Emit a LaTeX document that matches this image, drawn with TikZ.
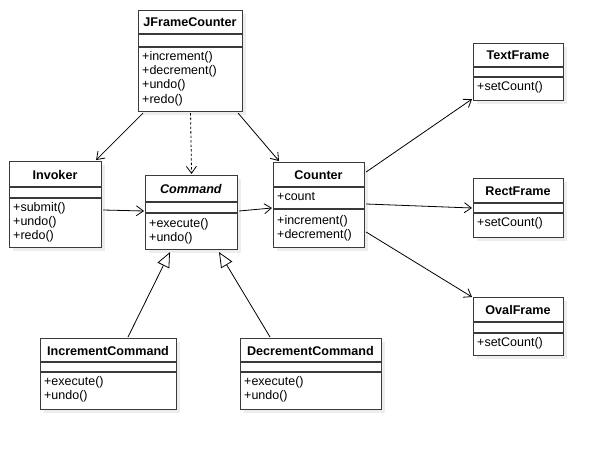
\documentclass[tikz,border=0pt]{standalone}
\usepackage{fontspec}
\setmainfont{Liberation Sans}
\usetikzlibrary{arrows.meta,calc}
\definecolor{shadowc}{HTML}{EDEDED}
\definecolor{linec}{HTML}{3A3A3A}
\tikzset{
  umlbox/.style={draw=linec, line width=1.1pt, fill=white, inner sep=0pt},
  divider/.style={draw=linec, line width=1.1pt},
  ttl/.style={font=\fontsize{12.6}{14}\selectfont\bfseries, inner sep=0pt},
  mem/.style={font=\fontsize{12.5}{14.3}\selectfont, align=left, inner sep=0pt, anchor=north west},
  assoc/.style={draw=black, line width=0.8pt, -{Straight Barb[length=7pt,width=10pt,line width=0.8pt]}},
  dep/.style={assoc, dashed, dash pattern=on 2.5pt off 2pt},
  gen/.style={draw=black, line width=0.8pt, -{Triangle[open, length=15pt, width=13pt, line width=0.8pt, fill=white]}}
}
% name, x, y, w, h, d1, d2, title
\newcommand\umlclass[8]{%
  \fill[shadowc] (#2+4,#3+4) rectangle (#2+#4+4,#3+#5+4);
  \node[umlbox, minimum width=#4pt, minimum height=#5pt, anchor=north west] (#1) at (#2,#3) {};
  \draw[divider] (#2,#3+#6) -- (#2+#4,#3+#6);
  \draw[divider] (#2,#3+#7) -- (#2+#4,#3+#7);
  \node[ttl] (#1-title) at (#2+#4/2,#3+#6/2+0.5) {#8};
}
\begin{document}
\begin{tikzpicture}[x=1pt,y=-1pt]
\useasboundingbox[fill=white] (0,0) rectangle (603,450);

\umlclass{jfc}{138}{10}{104}{101}{24}{37}{JFrameCounter}
\node[mem] (jfc-m) at (142,51) {+increment()\\+decrement()\\+undo()\\+redo()};

\umlclass{inv}{9}{161}{92}{86}{26}{37}{Invoker}
\node[mem] (inv-m) at (13,202) {+submit()\\+undo()\\+redo()};

\umlclass{cmd}{145}{175}{92}{74}{27}{38}{\textit{Command}}
\node[mem] (cmd-m) at (149,218) {+execute()\\+undo()};

\umlclass{cnt}{273}{162}{91}{85}{25}{47}{Counter}
\node[mem] (cnt-a) at (277,192) {+count};
\node[mem] (cnt-m) at (277,215) {+increment()\\+decrement()};

\umlclass{tf}{473}{43}{90}{57}{24}{34}{TextFrame}
\node[mem] (tf-m) at (477,81) {+setCount()};

\umlclass{rf}{473}{178}{90}{59}{25}{35}{RectFrame}
\node[mem] (rf-m) at (477,217) {+setCount()};

\umlclass{of}{473}{297}{90}{58}{25}{36}{OvalFrame}
\node[mem] (of-m) at (477,337) {+setCount()};

\umlclass{inc}{40}{338}{136}{71}{24}{34}{IncrementCommand}
\node[mem] (inc-m) at (44,376) {+execute()\\+undo()};

\umlclass{dec}{240}{338}{141}{71}{24}{34}{DecrementCommand}
\node[mem] (dec-m) at (244,376) {+execute()\\+undo()};

% connectors
\draw[assoc] ($(jfc.south west)+(5,1)$) -- ($(inv.north east)+(-6,-1)$);
\draw[dep] ($(jfc.south)+(0,1)$) -- ($(cmd.north)+(0,-1)$);
\draw[assoc] ($(jfc.south east)+(-5,1)$) -- ($(cnt.north west)+(6,-1)$);
\draw[assoc] ($(inv.north east)+(1,49)$) -- ($(cmd.north west)+(-1,36)$);
\draw[assoc] ($(cmd.north east)+(1,36)$) -- ($(cnt.north west)+(-1,46)$);
\draw[assoc] ($(cnt.north east)+(1,10)$) -- ($(tf.south west)+(-1,-2)$);
\draw[assoc] ($(cnt.north east)+(1,42)$) -- ($(rf.north west)+(-1,30)$);
\draw[assoc] ($(cnt.north east)+(1,70)$) -- ($(of.north west)+(-1,0)$);
\draw[gen] ($(inc.north west)+(88,-1)$) -- ($(cmd.south west)+(25,2)$);
\draw[gen] ($(dec.north west)+(30,-1)$) -- ($(cmd.south west)+(74,2)$);
\end{tikzpicture}
\end{document}
